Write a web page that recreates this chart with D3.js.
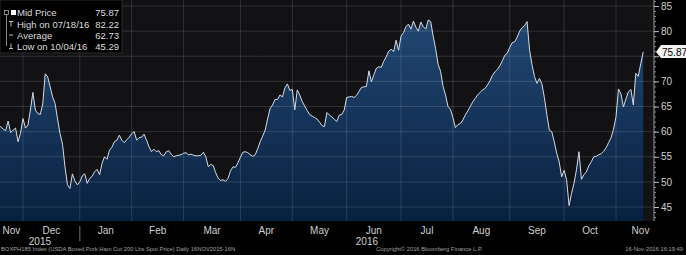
<!DOCTYPE html>
<html>
<head>
<meta charset="utf-8">
<script src="https://cdn.jsdelivr.net/npm/d3@7"></script>
<style>
  html, body { margin: 0; padding: 0; background: #000; }
  svg { display: block; font-family: "Liberation Sans", Arial, sans-serif; }
</style>
</head>
<body>
<svg id="chart" width="686" height="255"></svg>
<script>
// USDA boxed pork ham cut, one value per weekday starting 16 Nov 2015
const midPrice = [
  61.3, 61.1, 61.0, 60.5, 60.2, 62.1, 59.8, 60.3, 60.7, 58.0,
  59.7, 62.6, 60.7, 61.3, 64.3, 67.8, 64.3, 63.6, 63.4, 65.5,
  71.5, 70.9, 68.9, 66.9, 65.6, 62.5, 59.6, 57.5, 53.0, 49.4,
  48.7, 51.6, 50.2, 49.4, 50.0, 51.2, 51.6, 49.7, 50.7, 51.1,
  52.0, 52.5, 51.4, 53.7, 55.0, 54.5, 56.3, 56.9, 58.0, 58.3,
  59.3, 58.3, 57.8, 58.4, 58.9, 59.6, 60.0, 58.3, 58.8, 58.9,
  59.5, 58.3, 57.0, 56.0, 56.5, 56.0, 56.2, 55.4, 55.2, 56.0,
  56.2, 55.5, 55.0, 55.2, 55.3, 55.4, 55.7, 55.8, 55.4, 55.5,
  55.3, 55.2, 55.2, 55.3, 55.9, 55.0, 53.0, 53.5, 53.2, 51.8,
  50.7, 50.3, 50.4, 50.1, 50.7, 52.2, 53.0, 52.9, 53.8, 54.9,
  55.9, 56.0, 55.8, 55.4, 55.1, 55.4, 56.6, 58.0, 59.1, 60.3,
  62.5, 64.6, 65.3, 66.4, 66.4, 67.3, 66.9, 68.7, 69.5, 68.2,
  68.4, 64.3, 68.3, 67.3, 66.0, 65.1, 64.2, 63.4, 63.1, 62.8,
  62.5, 61.9, 61.2, 61.0, 63.8, 63.3, 62.9, 62.5, 62.0, 63.3,
  63.4, 64.3, 66.8, 66.9, 67.0, 66.8, 67.2, 68.0, 68.8, 68.9,
  69.0, 72.1, 69.9, 71.3, 72.6, 72.9, 72.8, 74.0, 74.9, 76.0,
  76.4, 75.9, 78.2, 76.2, 79.0, 79.7, 80.9, 81.4, 80.4, 82.0,
  80.8, 80.0, 81.8, 80.9, 80.4, 82.22, 81.9, 79.0, 76.5, 73.4,
  72.0, 69.0, 67.3, 65.0, 64.4, 62.8, 60.8, 61.4, 61.6, 62.3,
  63.3, 64.1, 65.0, 65.9, 66.6, 67.3, 67.8, 68.3, 68.6, 69.3,
  70.1, 71.2, 71.9, 72.4, 73.1, 74.1, 75.2, 75.6, 76.8, 77.7,
  77.9, 78.8, 80.0, 80.7, 81.1, 81.9, 76.3, 73.3, 71.0, 69.6,
  70.6, 69.5, 66.8, 63.4, 60.3, 60.0, 58.0, 55.7, 54.0, 51.0,
  52.3, 50.4, 45.29, 47.7, 49.7, 52.4, 56.0, 50.5, 51.4, 52.0,
  53.2, 54.0, 55.0, 55.1, 55.4, 55.6, 56.1, 56.8, 57.8, 58.8,
  60.5, 63.0, 68.5, 67.5, 64.9, 66.5, 67.9, 68.4, 65.3, 71.6,
  71.0, 73.5, 75.87
];

const yTicks = [45, 50, 55, 60, 65, 70, 75, 80, 85];
const lastPrice = "75.87";
const legendRows = [
  ["Mid Price", "75.87"],
  ["High on 07/18/16", "82.22"],
  ["Average", "62.73"],
  ["Low on 10/04/16", "45.29"]
];
const years = [2015, 2016];
const footer = [
  "BOXPH185 Index (USDA Boxed Pork Ham Cut 200 Lbs Spot Price)  Daily 16NOV2015-16N",
  "Copyright\u00a9 2016 Bloomberg Finance L.P.",
  "16-Nov-2016 16:19:49"
];

const plotW = 654, plotH = 221;
const svg = d3.select('#chart');

// weekday calendar (x axis counts weekdays only)
const allDays = d3.timeDay.range(new Date(2015, 10, 1), new Date(2016, 11, 2))
  .filter(d => d.getDay() % 6 !== 0);
const origin = allDays.findIndex(d => +d === +new Date(2015, 10, 16));
const idxOf = date => allDays.findIndex(d => d >= date) - origin;

const x = d3.scaleLinear().domain([0, midPrice.length - 1]).range([-4.2, 643.2]);
const y = d3.scaleLinear().domain([45, 85]).range([207, 6]);

const defs = svg.append('defs');
const grad = defs.append('linearGradient')
  .attr('id', 'fillGrad')
  .attr('gradientUnits', 'userSpaceOnUse')
  .attr('x1', 0).attr('x2', 0).attr('y1', 0).attr('y2', plotH);
grad.append('stop').attr('offset', '0%').attr('stop-color', '#244b77');
grad.append('stop').attr('offset', '100%').attr('stop-color', '#08203f');

defs.append('clipPath').attr('id', 'plotClip')
  .append('rect').attr('width', plotW).attr('height', plotH);

svg.append('rect').attr('width', plotW).attr('height', plotH).attr('fill', '#121214');

const plot = svg.append('g').attr('clip-path', 'url(#plotClip)');

plot.append('path')
  .datum(midPrice)
  .attr('fill', 'url(#fillGrad)')
  .attr('d', d3.area().x((d, i) => x(i)).y0(plotH).y1(d => y(d)));

// grid on top of the fill
const months = d3.timeMonth.range(new Date(2015, 10, 1), new Date(2016, 11, 1));
plot.append('g')
  .selectAll('line')
  .data(yTicks)
  .join('line')
  .attr('x1', 0).attr('x2', plotW)
  .attr('y1', d => y(d)).attr('y2', d => y(d))
  .attr('stroke', '#fff').attr('stroke-opacity', 0.13);

plot.append('g')
  .selectAll('line')
  .data(months.map(m => idxOf(m)).filter(i => i > 0))
  .join('line')
  .attr('x1', d => x(d)).attr('x2', d => x(d))
  .attr('y1', 0).attr('y2', plotH)
  .attr('stroke', '#fff').attr('stroke-opacity', 0.13);

plot.append('path')
  .datum(midPrice)
  .attr('fill', 'none')
  .attr('stroke', '#d5dbe4')
  .attr('stroke-width', 1)
  .attr('d', d3.line().x((d, i) => x(i)).y(d => y(d)));

// right axis (the 75 label sits under the last-price tag, as in the original)
const axisG = svg.append('g').attr('transform', `translate(${plotW},0)`);
axisG.append('line').attr('y1', 0).attr('y2', plotH).attr('stroke', '#9a9a9a');
axisG.append('g')
  .call(d3.axisRight(y).tickValues(d3.range(43, 87)).tickSize(2).tickFormat(''))
  .call(g => g.select('.domain').remove())
  .call(g => g.selectAll('line').attr('stroke', '#8a8a8a'));
axisG.append('g')
  .call(d3.axisRight(y).tickValues(yTicks).tickSize(5).tickPadding(2)
    .tickFormat(d => d === 75 ? '' : d))
  .call(g => g.select('.domain').remove())
  .call(g => g.selectAll('line').attr('stroke', '#bbb'))
  .call(g => g.selectAll('text').attr('fill', '#cfcfcf').attr('font-size', 10)
    .attr('font-family', '"Liberation Sans", Arial, sans-serif'));

// last price tag
const ty = y(+lastPrice);
svg.append('path')
  .attr('d', `M${plotW + 2},${ty} L${plotW + 7},${ty - 7} L686,${ty - 7} L686,${ty + 6} L${plotW + 7},${ty + 6} Z`)
  .attr('fill', '#f2f2f2');
svg.append('text')
  .attr('x', plotW + 8).attr('y', ty + 4)
  .attr('font-size', 10).attr('fill', '#000')
  .text(lastPrice);

// month labels
const clampX = v => Math.max(0, Math.min(665, v));
svg.append('g')
  .selectAll('text')
  .data(months)
  .join('text')
  .attr('x', m => (clampX(x(idxOf(m))) + clampX(x(idxOf(d3.timeMonth.offset(m, 1))))) / 2)
  .attr('y', 234)
  .attr('text-anchor', 'middle')
  .attr('font-size', 10)
  .attr('fill', '#cfcfcf')
  .text(d3.timeFormat('%b'));

// year labels and separator
const jan1 = x(idxOf(new Date(2016, 0, 1)));
const yearSpans = [[0, jan1], [jan1, plotW]];
svg.append('g')
  .selectAll('text')
  .data(years)
  .join('text')
  .attr('x', (d, i) => (yearSpans[i][0] + yearSpans[i][1]) / 2)
  .attr('y', 245)
  .attr('text-anchor', 'middle')
  .attr('font-size', 10)
  .attr('fill', '#cfcfcf')
  .text(d => d);
svg.append('line')
  .attr('x1', jan1).attr('x2', jan1).attr('y1', 226).attr('y2', 241)
  .attr('stroke', '#777');

// legend box
const lg = svg.append('g');
lg.append('rect').attr('x', 0).attr('y', 0).attr('width', 122).attr('height', 53)
  .attr('fill', '#000').attr('stroke', '#2a2a2a');
lg.append('line').attr('x1', 6.5).attr('x2', 6.5).attr('y1', 12).attr('y2', 46)
  .attr('stroke', '#888');
const rowY = [12.5, 24, 35, 46];
lg.selectAll('text.name')
  .data(legendRows)
  .join('text')
  .attr('class', 'name')
  .attr('x', 17).attr('y', (d, i) => rowY[i] + 3.5)
  .attr('font-size', 9.5).attr('fill', '#dcdcdc')
  .text(d => d[0]);
lg.selectAll('text.val')
  .data(legendRows)
  .join('text')
  .attr('class', 'val')
  .attr('x', 119).attr('y', (d, i) => rowY[i] + 3.5)
  .attr('text-anchor', 'end')
  .attr('font-size', 9.5).attr('fill', '#dcdcdc')
  .text(d => d[1]);
// legend glyphs
lg.append('rect').attr('x', 4.5).attr('y', rowY[0] - 2).attr('width', 4).attr('height', 4)
  .attr('fill', '#000').attr('stroke', '#aaa').attr('stroke-width', 0.8);
lg.append('rect').attr('x', 11).attr('y', rowY[0] - 2.5).attr('width', 5).attr('height', 5).attr('fill', '#fff');
lg.append('path').attr('d', `M9,${rowY[1] - 2.5} h4 M11,${rowY[1] - 2.5} v5`).attr('stroke', '#bbb');
lg.append('path').attr('d', `M9,${rowY[2]} h4`).attr('stroke', '#bbb');
lg.append('path').attr('d', `M11,${rowY[3] - 2.5} v5 M9,${rowY[3] + 2.5} h4`).attr('stroke', '#bbb');

// footer
svg.append('g')
  .selectAll('text')
  .data(footer)
  .join('text')
  .attr('x', (d, i) => [1, 376, 683][i])
  .attr('y', 251)
  .attr('text-anchor', (d, i) => i === 2 ? 'end' : 'start')
  .attr('font-size', 5.8)
  .attr('fill', '#a0a0a0')
  .text(d => d);
</script>
</body>
</html>
